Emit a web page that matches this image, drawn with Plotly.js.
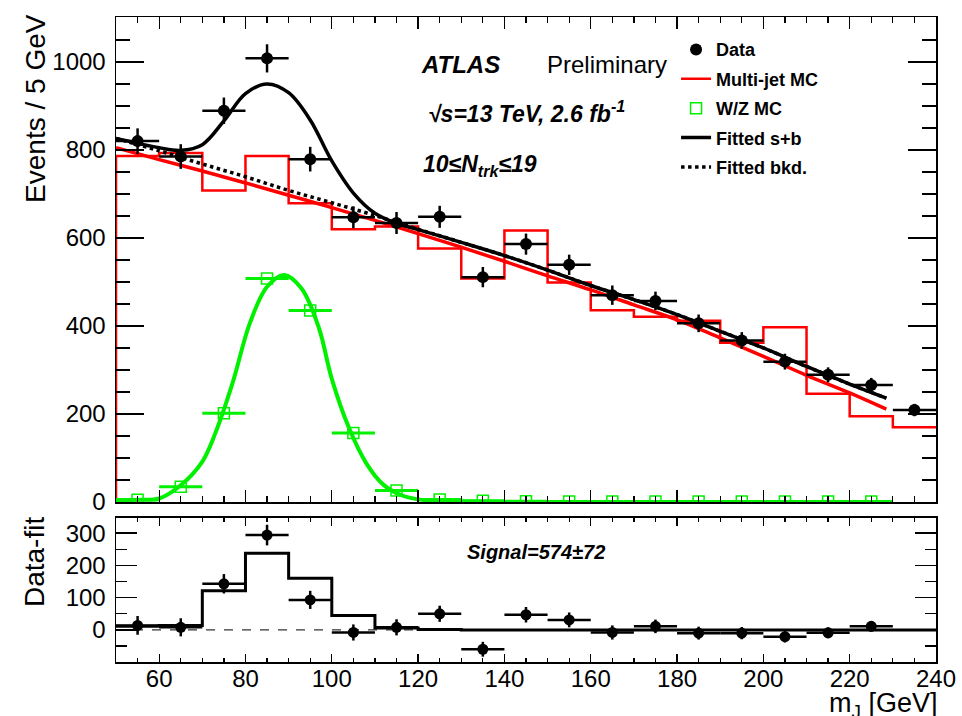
<!DOCTYPE html>
<html><head><meta charset="utf-8">
<script src="https://cdn.plot.ly/plotly-3.0.1.min.js"></script>
<style>html,body{margin:0;padding:0;background:#fff}#chart{width:962px;height:716px}</style>
</head><body><div id="chart"></div>
<script>
// ---- data ----
const binCenters = [55,65,75,85,95,105,115,125,135,145,155,165,175,185,195,205,215,225,235];
const binWidth = 10;
const dataY   = [820,785,889,1008,779,647,634,648,511,586,539,470,457,406,367,319,289,266,209];
const dataErr = [29,28,30,32,28,25,25,25,23,24,23,22,21,20,19,18,17,16,14];
const multijetMC = [786,793,708,786,679,620,626,576,508,617,499,436,421,412,362,397,246,195,170];

const wzCenters = [55,65,75,85,95,105,115,125,135,145,155,165,175,185,195,205,215,225];
const wzMC = [5,35,202,508,435,157,26,6,3,2,1,1,1,1,1,1,1,1];

const mcFitX = [50,60,70,80,90,100,110,120,130,140,150,160,170,180,190,200,210,220,228.5];
const mcFitY = [805,778,752,725,697,669,640,610,579,547,514,482,448,414,373,331,288,248,211];

const sbX = [50,55,60,65,70,75,80,85,90,95,100,105,110,115,120,130,140,150,160,170,180,190,200,210,220,228.5];
const sbY = [826,815,805,799,812,866,928,950,930,868,775,702,656,633,619,590,560,527,492,460,426,388,350,308,268,236];

const bkdX = [50,60,70,80,90,100,110,120,130,140,150,160,170,180,190,200,210,220,228.5];
const bkdY = [826,798,768,739,708,680,651,620,590,560,527,492,460,426,388,350,308,268,236];

const wzFitX = [50,55,60,65,70,73,77,81,85,89,93,97,100,104,108,112,116,120,125,130,140,160,180,200,229];
const wzFitY = [4,5,8,38,92,156,270,406,489,516,485,396,280,168,88,39,16,6,2,1,0,0,0,0,0];

const diffCenters = [55,65,75,85,95,105,115,125,135,145,155,165,175,185,195,205,215,225];
const diffY   = [14,8,143,294,93,-8,8,50,-60,47,31,-8,11,-10,-10,-21,-9,11];
const diffErr = [29,28,30,32,28,25,25,25,23,24,23,22,21,20,19,18,17,16];
const signalFit = [11,14,121,238,160,45,6,1,0,0,0,0,0,0,0,0,0,0,0];

const xTickStep = 20;

// ---- helpers ----
function stepXY(centers, values, fromZero){
  const xs=[], ys=[];
  if(fromZero){ xs.push(centers[0]-binWidth/2); ys.push(0); }
  for(let i=0;i<centers.length;i++){ xs.push(centers[i]-binWidth/2); ys.push(values[i]); }
  xs.push(centers[centers.length-1]+binWidth/2); ys.push(values[values.length-1]);
  return {x:xs, y:ys};
}
const FONT = 'Liberation Sans, Arial, Helvetica, sans-serif';
const GREEN = '#00f000';

const mcStep = stepXY(binCenters, multijetMC, true);
const sigStep = stepXY(binCenters, signalFit, false);

const traces = [
  {x:mcStep.x, y:mcStep.y, mode:'lines', line:{shape:'hv', color:'#ff0000', width:2.5},
   name:'Multi-jet MC', legendrank:2, legendgroup:'g2', xaxis:'x', yaxis:'y'},
  {x:mcFitX, y:mcFitY, mode:'lines', line:{shape:'spline', color:'#ff0000', width:3.5},
   showlegend:false, xaxis:'x', yaxis:'y'},
  {x:wzFitX, y:wzFitY, mode:'lines', line:{shape:'spline', color:GREEN, width:4},
   showlegend:false, xaxis:'x', yaxis:'y'},
  {x:wzCenters, y:wzMC, mode:'markers', name:'W/Z MC', legendrank:3, legendgroup:'g3',
   marker:{symbol:'square-open', size:11, color:GREEN, line:{width:1.5, color:GREEN}},
   error_x:{type:'constant', value:binWidth/2, color:GREEN, thickness:3, width:0},
   xaxis:'x', yaxis:'y'},
  {x:bkdX, y:bkdY, mode:'lines', name:'Fitted bkd.', legendrank:5, legendgroup:'g5',
   line:{shape:'spline', color:'#000', width:3.5, dash:'dot'}, xaxis:'x', yaxis:'y'},
  {x:sbX, y:sbY, mode:'lines', name:'Fitted s+b', legendrank:4, legendgroup:'g4',
   line:{shape:'spline', color:'#000', width:3.5}, xaxis:'x', yaxis:'y'},
  {x:binCenters, y:dataY, mode:'markers', name:'Data', legendrank:1, legendgroup:'g1',
   marker:{symbol:'circle', size:12, color:'#000'},
   error_y:{type:'data', array:dataErr, color:'#000', thickness:2.5, width:0},
   error_x:{type:'constant', value:binWidth/2, color:'#000', thickness:2.5, width:0},
   xaxis:'x', yaxis:'y'},
  // ratio panel
  {x:sigStep.x, y:sigStep.y, mode:'lines', line:{shape:'hv', color:'#000', width:3},
   showlegend:false, xaxis:'x2', yaxis:'y2'},
  {x:diffCenters, y:diffY, mode:'markers', showlegend:false,
   marker:{symbol:'circle', size:11, color:'#000'},
   error_y:{type:'data', array:diffErr, color:'#000', thickness:2.5, width:0},
   error_x:{type:'constant', value:binWidth/2, color:'#000', thickness:2.5, width:0},
   xaxis:'x2', yaxis:'y2'}
];

const axCommon = {showline:true, linecolor:'#000', linewidth:1.5, mirror:'allticks',
  ticks:'inside', tickcolor:'#000', tickwidth:1.3, showgrid:false, zeroline:false,
  tickfont:{family:FONT, size:24, color:'#000'}};

const layout = {
  width:962, height:716,
  margin:{l:116, r:26, t:17, b:54},
  paper_bgcolor:'#fff', plot_bgcolor:'#fff',
  font:{family:FONT, color:'#000'},
  showlegend:true,
  legend:{x:0.683, y:0.978, xanchor:'left', yanchor:'top', bgcolor:'rgba(0,0,0,0)',
    font:{family:FONT, size:18, weight:'bold', color:'#000'}, itemwidth:30,
    traceorder:'grouped', tracegroupgap:3},
  xaxis:Object.assign({}, axCommon, {domain:[0,1], anchor:'y', range:[50,240],
    tick0:0, dtick:xTickStep, ticklen:12, showticklabels:false,
    minor:{dtick:5, tick0:0, ticklen:6, ticks:'inside', tickcolor:'#000', tickwidth:1.3}}),
  yaxis:Object.assign({}, axCommon, {domain:[0.248,1], anchor:'x', range:[0,1102],
    tick0:0, dtick:200, ticklen:28, ticklabelstandoff:4,
    minor:{dtick:50, tick0:0, ticklen:14, ticks:'inside', tickcolor:'#000', tickwidth:1.3}}),
  xaxis2:Object.assign({}, axCommon, {domain:[0,1], anchor:'y2', range:[50,240],
    tick0:0, dtick:xTickStep, ticklen:8, ticklabelstandoff:-5,
    minor:{dtick:5, tick0:0, ticklen:4, ticks:'inside', tickcolor:'#000', tickwidth:1.3}}),
  yaxis2:Object.assign({}, axCommon, {domain:[0,0.2233], anchor:'x2', range:[-99.5,347],
    tick0:0, dtick:100, ticklen:21, ticklabelstandoff:4,
    minor:{dtick:50, tick0:0, ticklen:11, ticks:'inside', tickcolor:'#000', tickwidth:1.3}}),
  shapes:[
    {type:'line', xref:'paper', x0:0, x1:1, yref:'y2', y0:0, y1:0,
     line:{color:'#000', width:1, dash:'dash'}, layer:'below'}
  ],
  annotations:[
    {text:'ATLAS', xref:'paper', yref:'paper', x:0.3695, y:0.9256, xanchor:'left', yanchor:'middle',
     showarrow:false, font:{family:FONT, size:24, weight:'bold', style:'italic', color:'#000'}},
    {text:'Preliminary', xref:'paper', yref:'paper', x:0.5235, y:0.9256, xanchor:'left', yanchor:'middle',
     showarrow:false, font:{family:FONT, size:24, color:'#000'}},
    {text:'√s=13 TeV, 2.6 fb<sup>-1</sup>', xref:'paper', yref:'paper', x:0.3775, y:0.8527, xanchor:'left', yanchor:'middle',
     showarrow:false, font:{family:FONT, size:23, weight:'bold', style:'italic', color:'#000'}},
    {text:'10≤N<sub>trk</sub>≤19', xref:'paper', yref:'paper', x:0.3725, y:0.7705, xanchor:'left', yanchor:'middle',
     showarrow:false, font:{family:FONT, size:23, weight:'bold', style:'italic', color:'#000'}},
    {text:'Signal=574±72', xref:'paper', yref:'paper', x:0.5122, y:0.1705, xanchor:'center', yanchor:'middle',
     showarrow:false, font:{family:FONT, size:20, weight:'bold', style:'italic', color:'#000'}},
    {text:'Events / 5 GeV', xref:'paper', yref:'paper', x:-0.0976, y:0.859, xanchor:'center', yanchor:'middle',
     textangle:-90, showarrow:false, font:{family:FONT, size:28, color:'#000'}},
    {text:'Data-fit', xref:'paper', yref:'paper', x:-0.1, y:0.155, xanchor:'center', yanchor:'middle',
     textangle:-90, showarrow:false, font:{family:FONT, size:28, color:'#000'}},
    {text:'m<sub>J</sub> [GeV]', xref:'paper', yref:'paper', x:1.004, y:-0.066, xanchor:'right', yanchor:'middle',
     showarrow:false, font:{family:FONT, size:27, color:'#000'}}
  ]
};

Plotly.newPlot('chart', traces, layout, {displayModeBar:false, staticPlot:true});
</script>
</body></html>
